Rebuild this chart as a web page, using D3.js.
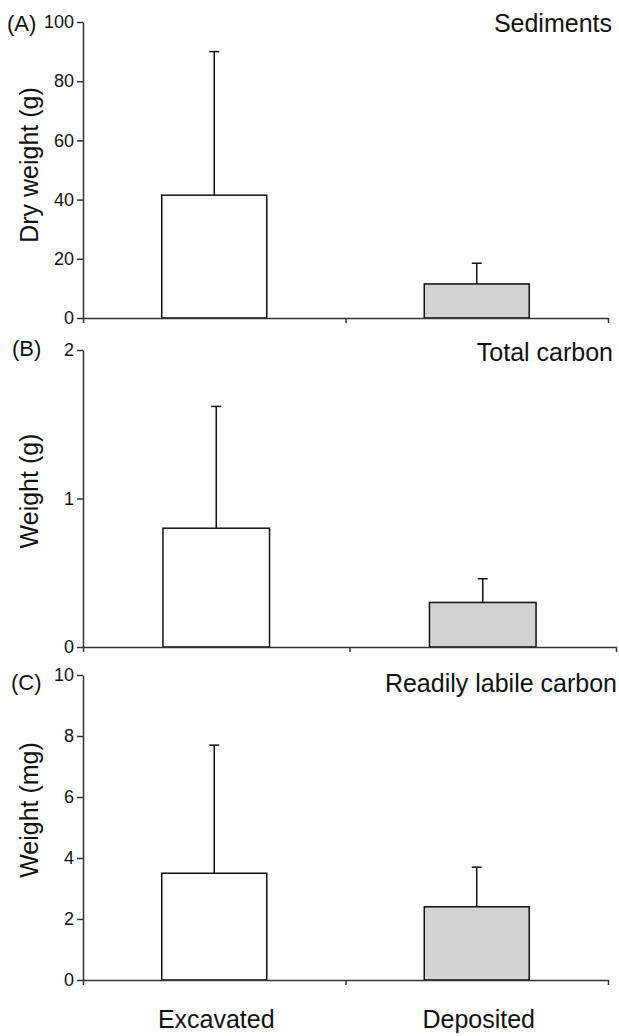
<!DOCTYPE html>
<html>
<head>
<meta charset="utf-8">
<script src="https://cdn.jsdelivr.net/npm/d3@7"></script>
<style>
  html, body { margin: 0; padding: 0; background: #fff; }
  svg { display: block; font-family: "Liberation Sans", Arial, sans-serif; }
</style>
</head>
<body>
<svg id="chart" width="619" height="1036"></svg>
<script>
// ---- data ----
const categories = ["Excavated", "Deposited"];

const sedimentsMean = [41.5, 11.5];
const sedimentsSD   = [48.5, 7.0];
const sedimentsTicks = [0, 20, 40, 60, 80, 100];

const totalCarbonMean = [0.80, 0.30];
const totalCarbonSD   = [0.82, 0.16];
const totalCarbonTicks = [0, 1, 2];

const labileCarbonMean = [3.5, 2.4];
const labileCarbonSD   = [4.2, 1.3];
const labileCarbonTicks = [0, 2, 4, 6, 8, 10];

const barFills = ["#ffffff", "#d3d3d3"];

// ---- panel layout ----
const panels = [
  { letter: "(A)", title: "Sediments", ylabel: "Dry weight (g)",
    mean: sedimentsMean, sd: sedimentsSD, ticks: sedimentsTicks, max: 100,
    x0: 83, x1: 608, yTop: 22, yBottom: 318,
    letterX: 7, letterY: 31, titleX: 612, titleY: 32, ylabelY: 165 },
  { letter: "(B)", title: "Total carbon", ylabel: "Weight (g)",
    mean: totalCarbonMean, sd: totalCarbonSD, ticks: totalCarbonTicks, max: 2,
    x0: 83, x1: 616, yTop: 350, yBottom: 647,
    letterX: 12, letterY: 356, titleX: 613, titleY: 361, ylabelY: 491 },
  { letter: "(C)", title: "Readily labile carbon", ylabel: "Weight (mg)",
    mean: labileCarbonMean, sd: labileCarbonSD, ticks: labileCarbonTicks, max: 10,
    x0: 83, x1: 608, yTop: 675, yBottom: 980,
    letterX: 11, letterY: 690, titleX: 617, titleY: 692, ylabelY: 810 }
];

const svg = d3.select("#chart");
const ink = "#111";

panels.forEach((p, pi) => {
  const g = svg.append("g");
  const x = d3.scaleBand().domain(categories).range([p.x0, p.x1]).padding(0);
  const y = d3.scaleLinear().domain([0, p.max]).range([p.yBottom, p.yTop]);
  const barW = x.bandwidth() * 0.4;

  // bars
  const data = categories.map((c, i) => ({ c, m: p.mean[i], s: p.sd[i], i }));
  g.selectAll("rect.bar").data(data).enter().append("rect")
    .attr("class", "bar")
    .attr("x", d => x(d.c) + x.bandwidth() / 2 - barW / 2)
    .attr("y", d => y(d.m))
    .attr("width", barW)
    .attr("height", d => y(0) - y(d.m))
    .attr("fill", d => barFills[d.i])
    .attr("stroke", ink)
    .attr("stroke-width", 1.5);

  // error bars (upper only)
  g.selectAll("line.err").data(data).enter().append("line")
    .attr("x1", d => x(d.c) + x.bandwidth() / 2)
    .attr("x2", d => x(d.c) + x.bandwidth() / 2)
    .attr("y1", d => y(d.m))
    .attr("y2", d => y(d.m + d.s))
    .attr("stroke", ink).attr("stroke-width", 1.5);
  g.selectAll("line.cap").data(data).enter().append("line")
    .attr("x1", d => x(d.c) + x.bandwidth() / 2 - 5)
    .attr("x2", d => x(d.c) + x.bandwidth() / 2 + 5)
    .attr("y1", d => y(d.m + d.s))
    .attr("y2", d => y(d.m + d.s))
    .attr("stroke", ink).attr("stroke-width", 1.5);

  // y axis
  const yAxis = g.append("g")
    .attr("transform", `translate(${p.x0},0)`)
    .call(d3.axisLeft(y).tickValues(p.ticks).tickFormat(d3.format("d"))
      .tickSize(6).tickPadding(3).tickSizeOuter(0));
  yAxis.select(".domain").attr("stroke", "#333").attr("stroke-width", 1.5);
  yAxis.selectAll(".tick line").attr("stroke", "#333").attr("stroke-width", 1.5);
  yAxis.selectAll(".tick text")
    .style("font-size", "18px")
    .style("font-family", "'Liberation Sans', Arial, sans-serif")
    .attr("fill", ink);

  // x axis (ticks at band boundaries)
  const xb = d3.scaleLinear().domain([0, categories.length]).range([p.x0, p.x1]);
  const xAxis = g.append("g")
    .attr("transform", `translate(0,${p.yBottom})`)
    .call(d3.axisBottom(xb).tickValues(d3.range(categories.length + 1))
      .tickFormat("").tickSize(5).tickSizeOuter(0));
  xAxis.select(".domain").attr("stroke", "#333").attr("stroke-width", 1.5);
  xAxis.selectAll(".tick line").attr("stroke", "#333").attr("stroke-width", 1.5);

  // panel letter
  g.append("text").attr("x", p.letterX).attr("y", p.letterY)
    .style("font-size", "22px").attr("fill", ink).text(p.letter);

  // panel title
  g.append("text").attr("x", p.titleX).attr("y", p.titleY)
    .attr("text-anchor", "end").style("font-size", "25px").attr("fill", ink).text(p.title);

  // y label
  g.append("text")
    .attr("transform", `translate(38,${p.ylabelY}) rotate(-90)`)
    .attr("text-anchor", "middle").style("font-size", "25px").attr("fill", ink)
    .text(p.ylabel);

  // category labels (bottom panel only)
  if (pi === panels.length - 1) {
    g.selectAll("text.cat").data(categories).enter().append("text")
      .attr("x", d => x(d) + x.bandwidth() / 2 + 2)
      .attr("y", 1028)
      .attr("text-anchor", "middle").style("font-size", "25px").attr("fill", ink)
      .text(d => d);
  }
});
</script>
</body>
</html>
